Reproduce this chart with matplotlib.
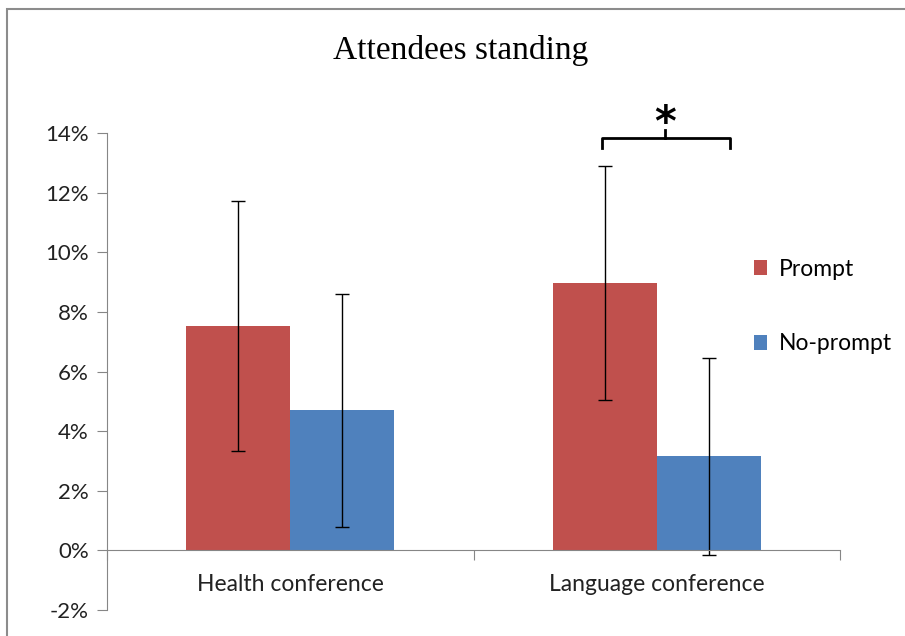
import numpy as np
import matplotlib.pyplot as plt
from matplotlib.patches import Rectangle

categories = ['Health conference', 'Language conference']
prompt_vals = [7.52, 8.96]
prompt_err = [4.2, 3.93]
noprompt_vals = [4.70, 3.15]
noprompt_err = [3.9, 3.3]

red = '#C0504D'
blue = '#4F81BD'
grey = '#868686'

W, H = 905, 636
fig = plt.figure(figsize=(W / 100, H / 100), dpi=100)
ax = fig.add_axes([107 / W, 1 - 610 / H, (840 - 107) / W, (610 - 133) / H])

ind = np.arange(len(categories))
width = 0.284

ebar = dict(ecolor='black', elinewidth=1, capsize=5, capthick=1)
rects1 = ax.bar(ind - width / 2, prompt_vals, width, color=red, yerr=prompt_err,
                error_kw=ebar, label='Prompt')
rects2 = ax.bar(ind + width / 2, noprompt_vals, width, color=blue, yerr=noprompt_err,
                error_kw=ebar, label='No-prompt')

ax.set_xlim(-0.5, 1.5)
ax.set_ylim(-2, 14)
ax.set_yticks(np.arange(-2, 15, 2))
ax.set_yticklabels(['%d%%' % v for v in np.arange(-2, 15, 2)])

for s in ['top', 'right']:
    ax.spines[s].set_visible(False)
ax.spines['left'].set_color(grey)
ax.spines['bottom'].set_color(grey)
ax.spines['bottom'].set_position(('data', 0))

ax.set_xticks([-0.5, 0.5, 1.5])
ax.set_xticklabels([])
ax.set_xticks(ind, minor=True)
ax.set_xticklabels(categories, minor=True)
ax.tick_params(axis='x', which='major', direction='out', length=7, color=grey)
ax.tick_params(axis='x', which='minor', length=0, pad=17)
ax.tick_params(axis='y', direction='out', length=7, color=grey, pad=6)
for lab in ax.get_xticklabels(minor=True):
    lab.set_fontfamily('Lato')
    lab.set_fontsize(16.5)
    lab.set_color('#222222')
for lab in ax.get_yticklabels():
    lab.set_fontfamily('Lato')
    lab.set_fontsize(16)
    lab.set_color('#222222')

# significance bracket
bx = [0.85, 0.85, 1.2, 1.2]
by = [13.5, 13.83, 13.83, 13.5]
ax.plot(bx, by, color='black', lw=2, clip_on=False)
ax.plot([1.022, 1.022], [13.83, 14.1], color='black', lw=2, clip_on=False)
ax.text(1.022, 13.6, '*', ha='center', va='bottom', fontsize=30,
        fontweight='bold', clip_on=False)

fig.text(461 / W, 1 - 50 / H, 'Attendees standing', ha='center', va='center',
         fontsize=24, family='Liberation Serif')

fig.legend(handles=[rects1, rects2], labels=['Prompt', 'No-prompt'],
           loc='upper left', bbox_to_anchor=(733 / W, 1 - 238 / H),
           frameon=False, prop={'family': 'Lato', 'size': 16.5},
           handlelength=0.6, handleheight=0.6, handletextpad=0.5,
           labelspacing=2.35)

fig.patches.append(Rectangle((7 / W, -0.1), 2, 1 - 9 / H + 0.1,
                             transform=fig.transFigure, fill=False,
                             edgecolor='#8c8c8c', lw=1.5))

fig.savefig('out.png', dpi=100)
